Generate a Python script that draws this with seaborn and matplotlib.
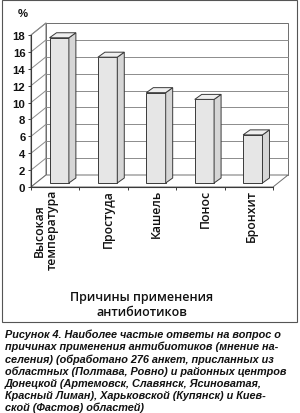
import matplotlib
matplotlib.use("Agg")
import matplotlib.pyplot as plt
import matplotlib.transforms as mtrans
from matplotlib.patches import Polygon, Rectangle
import seaborn as sns
import pandas as pd

# ---- data ----
categories = ["Высокая\nтемпература", "Простуда", "Кашель", "Понос", "Бронхит"]
values = [17.2, 14.9, 10.7, 9.9, 5.7]
yticks = [0, 2, 4, 6, 8, 10, 12, 14, 16, 18]
y_unit = "%"
xlabel_lines = ["Причины применения", "антибиотиков"]
caption_lines = [
    "Рисунок 4. Наиболее частые ответы на вопрос о",
    "причинах применения антибиотиков (мнение на-",
    "селения) (обработано 276 анкет, присланных из",
    "областных (Полтава, Ровно) и районных центров",
    "Донецкой (Артемовск, Славянск, Ясиноватая,",
    "Красный Лиман), Харьковской (Купянск) и Киев-",
    "ской (Фастов) областей)",
]

sns.set_theme(style="white")
plt.rcParams['font.family'] = ['Liberation Sans', 'DejaVu Sans']
chart_font = ['Open Sans', 'DejaVu Sans']

W, H = 300, 414
fig = plt.figure(figsize=(W / 100, H / 100), dpi=100)

# front plane of the 3-D box (pixel geometry)
ax_l, ax_r, ax_y0, ax_y18 = 31, 273, 188, 36
ax = fig.add_axes([ax_l / W, 1 - ax_y0 / H, (ax_r - ax_l) / W, (ax_y0 - ax_y18) / H])
ax.set_facecolor("none")

df = pd.DataFrame({"cat": categories, "val": values})
sns.barplot(data=df, x="cat", y="val", width=0.4, color="#e6e6e6",
            edgecolor="#3a3a3a", linewidth=0.7, saturation=1, ax=ax, zorder=3)

ax.set_xlim(-0.5, len(categories) - 0.5)
ax.set_ylim(0, yticks[-1])

# pixel -> data scales
sx = (len(categories)) / (ax_r - ax_l)
sy = yticks[-1] / (ax_y0 - ax_y18)
DX, DY = 15 * sx, 12 * sy          # box depth
BX, BY = 4 * sx, 4 * sy            # bar front offset
BDX, BDY = 7 * sx, 5 * sy          # bar depth

x0, x1 = -0.5, len(categories) - 0.5
ytop = yticks[-1]
wall_c = "#6e6e6e"
grid_c = "#8c8c8c"

# back wall
ax.add_patch(Polygon([(x0 + DX, DY), (x1 + DX, DY), (x1 + DX, ytop + DY), (x0 + DX, ytop + DY)],
                     closed=True, facecolor="white", edgecolor=wall_c, lw=0.7, clip_on=False, zorder=0))
# side wall
ax.add_patch(Polygon([(x0, 0), (x0, ytop), (x0 + DX, ytop + DY), (x0 + DX, DY)],
                     closed=True, facecolor="white", edgecolor=wall_c, lw=0.7, clip_on=False, zorder=0))
# floor
ax.add_patch(Polygon([(x0, 0), (x1, 0), (x1 + DX, DY), (x0 + DX, DY)],
                     closed=True, facecolor="white", edgecolor=wall_c, lw=0.7, clip_on=False, zorder=0))
for t in yticks[1:-1]:
    ax.plot([x0 + DX, x1 + DX], [t + DY, t + DY], color=grid_c, lw=0.7, clip_on=False, zorder=1)
for t in yticks[1:]:
    ax.plot([x0, x0 + DX], [t, t + DY], color=grid_c, lw=0.7, clip_on=False, zorder=1)

# shift bars into the middle of the depth and add 3-D faces
for p in [pp for pp in ax.patches if isinstance(pp, Rectangle)]:
    if p.get_height() <= 0:
        continue
    bx0 = p.get_x() + BX
    bx1 = bx0 + p.get_width()
    h = p.get_height() + BY
    p.set_x(bx0)
    p.set_y(BY)
    p.set_height(h - BY)
    p.set_clip_on(False)
    ax.add_patch(Polygon([(bx1, BY), (bx1 + BDX, BY + BDY), (bx1 + BDX, h + BDY), (bx1, h)],
                         closed=True, facecolor="#d6d6d6", edgecolor="#3a3a3a", lw=0.7,
                         clip_on=False, zorder=3))
    ax.add_patch(Polygon([(bx0, h), (bx1, h), (bx1 + BDX, h + BDY), (bx0 + BDX, h + BDY)],
                         closed=True, facecolor="#efefef", edgecolor="#3a3a3a", lw=0.7,
                         clip_on=False, zorder=3))

# axes styling
for s in ["top", "right"]:
    ax.spines[s].set_visible(False)
for s in ["left", "bottom"]:
    ax.spines[s].set_color("#3a3a3a")
    ax.spines[s].set_linewidth(0.8)
    ax.spines[s].set_zorder(4)
ax.set_yticks(yticks)
ax.set_yticklabels([str(t) for t in yticks], fontsize=8.2, fontweight="bold", color="#111111")
ax.tick_params(axis="y", which="major", left=True, length=2.5, width=0.7, color="#3a3a3a", pad=1.5)
ax.set_xticks([i for i in range(len(categories))])
ax.set_xticklabels([])
ax.set_xticks([i - 0.5 for i in range(len(categories) + 1)], minor=True)
ax.tick_params(axis="x", which="major", length=0)
ax.tick_params(axis="x", which="minor", bottom=True, length=2.5, width=0.7, color="#3a3a3a")
ax.set_xlabel("")
ax.set_ylabel("")

# category labels (rotated)
label_dx = [-9, 4.5, 4.5, 4.5, 3]
for i, (c, d) in enumerate(zip(categories, label_dx)):
    tr = ax.get_xaxis_transform() + mtrans.ScaledTranslation(d / 100, -2 / 100, fig.dpi_scale_trans)
    ax.text(i, 0, c, rotation=90, ha="center", va="top", fontsize=8.8, color="#111111",
            transform=tr, linespacing=1.0, family=chart_font, fontweight="semibold")

fig.text(23 / W, 1 - 14 / H, y_unit, ha="center", va="center", fontsize=8.2, fontweight="bold", color="#111111")

for k, line in enumerate(xlabel_lines):
    fig.text(142 / W, 1 - (298 + 15 * k) / H, line, ha="center", va="center", fontsize=9.0,
             color="#111111", family=chart_font, fontweight="semibold")

# frame around the chart area
fig.add_artist(Rectangle((2 / W, 1 - 323 / H), 294.5 / W, 322 / H, transform=fig.transFigure,
                         fill=False, edgecolor="#555555", lw=0.8))

for k, line in enumerate(caption_lines):
    fig.text(5 / W, 1 - (335 + 12.2 * k) / H, line, ha="left", va="center", fontsize=7.8,
             fontweight="bold", fontstyle="italic", color="#111111")

fig.savefig("out.png", dpi=100)
